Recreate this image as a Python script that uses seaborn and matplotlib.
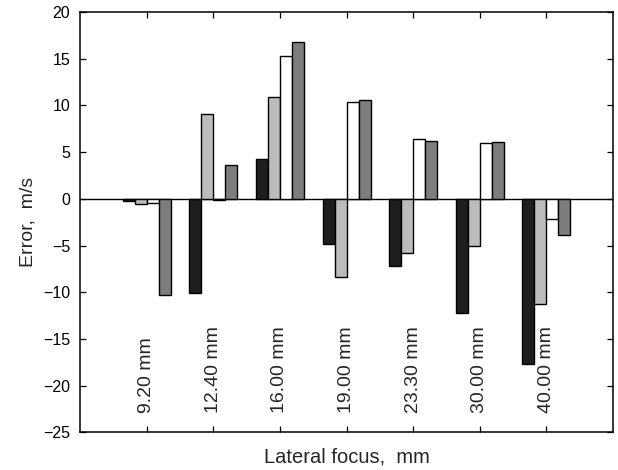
import matplotlib
matplotlib.use("Agg")
import matplotlib.pyplot as plt
import seaborn as sns
import pandas as pd

focus_labels = ["9.20 mm", "12.40 mm", "16.00 mm", "19.00 mm", "23.30 mm", "30.00 mm", "40.00 mm"]
series_names = ["A", "B", "C", "D"]
series_a = [-0.2, -10.1, 4.3, -4.8, -7.2, -12.2, -17.7]
series_b = [-0.5, 9.1, 10.9, -8.4, -5.8, -5.0, -11.3]
series_c = [-0.4, -0.1, 15.3, 10.4, 6.4, 6.0, -2.2]
series_d = [-10.3, 3.6, 16.8, 10.6, 6.2, 6.1, -3.9]
colors = ["#1e1e1e", "#bcbcbc", "#ffffff", "#7d7d7d"]

rows = []
for name, vals in zip(series_names, [series_a, series_b, series_c, series_d]):
    for lab, v in zip(focus_labels, vals):
        rows.append({"focus": lab, "series": name, "err": v})
df = pd.DataFrame(rows)

sns.set_style("ticks")
plt.rcParams["font.family"] = ["Liberation Sans", "DejaVu Sans"]

fig = plt.figure(figsize=(6.18, 4.70), dpi=100)
ax = fig.add_axes([0.1294, 0.0798, 0.8626, 0.8947])

sns.barplot(data=df, x="focus", y="err", hue="series", order=focus_labels,
            hue_order=series_names, palette=colors, width=0.72, gap=0,
            edgecolor="black", linewidth=1.0, legend=False, ax=ax, errorbar=None)

ax.axhline(0, color="black", linewidth=1.0, zorder=0.5)
ax.set_xlim(-1, 7)
ax.set_ylim(-25, 20)
ax.set_yticks(range(-25, 21, 5))
ax.set_xticks(range(len(focus_labels)))
ax.set_xticklabels([])
ax.tick_params(direction="in", top=True, right=True, length=4, width=0.9,
               labelsize=11.5, colors="black", pad=7)
ax.tick_params(axis="x", labelbottom=False)
for s in ax.spines.values():
    s.set_linewidth(1.1)
    s.set_color("black")

for i, lab in enumerate(focus_labels):
    ax.text(i, -22.9, lab, rotation=90, ha="center", va="bottom", fontsize=14)

ax.set_xlabel("Lateral focus,  mm", fontsize=14.5, labelpad=11)
ax.set_ylabel("Error,  m/s", fontsize=14, labelpad=5)

fig.savefig("out.png", dpi=100)
